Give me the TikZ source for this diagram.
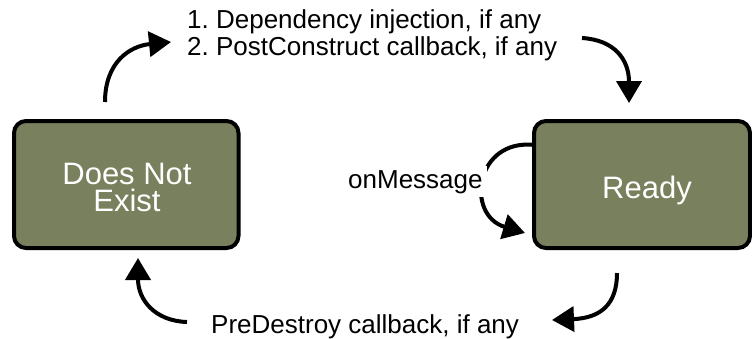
\documentclass[tikz,border=0pt]{standalone}
\usepackage{fontspec}
\setmainfont{Liberation Sans}
\usetikzlibrary{arrows.meta}
\definecolor{boxolive}{RGB}{121,128,93}
\frenchspacing
\tikzset{
  statebox/.style={draw=black, line width=4pt, fill=boxolive, rounded corners=12pt, inner sep=0pt},
  boxtext/.style={text=white, font=\fontsize{31}{27.5}\selectfont, align=center, inner sep=0pt},
  lbl/.style={text=black, font=\fontsize{26}{27}\selectfont, inner sep=0pt},
  flow/.style={line width=4pt, -{Triangle[length=22pt,width=25pt]}}
}
\begin{document}
\begin{tikzpicture}[x=1pt,y=-1pt]
\useasboundingbox (0,0) rectangle (752,338);
% coordinates for free-standing arrows
\coordinate (a1s) at (105,102);
\coordinate (a1e) at (171,42);
\coordinate (a2s) at (582,38);
\coordinate (a2e) at (629,103);
\coordinate (a3s) at (617,273);
\coordinate (a3e) at (552,320);
\coordinate (a4s) at (187,322);
\coordinate (a4e) at (138,258);
\coordinate (ls) at (535,145);
\coordinate (le) at (525,233);
% loop arrow
\draw[flow] (ls) .. controls (475,138) and (465,215) .. (le);
% boxes
\node[statebox, minimum width=224.5pt, minimum height=127pt] (dne) at (126.25,184.5) {};
\node[statebox, minimum width=216pt, minimum height=127pt] (ready) at (642,184.5) {};
\node[boxtext] (dnet) at (127,187.5) {Does Not\\Exist};
\node[boxtext, anchor=base] (readyt) at (647,198) {Ready};
% labels
\node[lbl, anchor=base west, align=left] (top) at (187,55) {\frenchspacing 1. Dependency injection, if any\\\frenchspacing 2. PostConstruct callback, if any};
\node[lbl, anchor=base west, fill=white, inner sep=4pt] (msg) at (344,188) {onMessage};
\node[lbl, anchor=base west] (bot) at (211,333) {PreDestroy callback, if any};
% arrows
\draw[flow] (a1s) .. controls (105,62) and (130,46) .. (a1e);
\draw[flow] (a2s) .. controls (615,40) and (629,60) .. (a2e);
\draw[flow] (a3s) .. controls (617,305) and (600,318) .. (a3e);
\draw[flow] (a4s) .. controls (155,321) and (138,300) .. (a4e);
\end{tikzpicture}
\end{document}
